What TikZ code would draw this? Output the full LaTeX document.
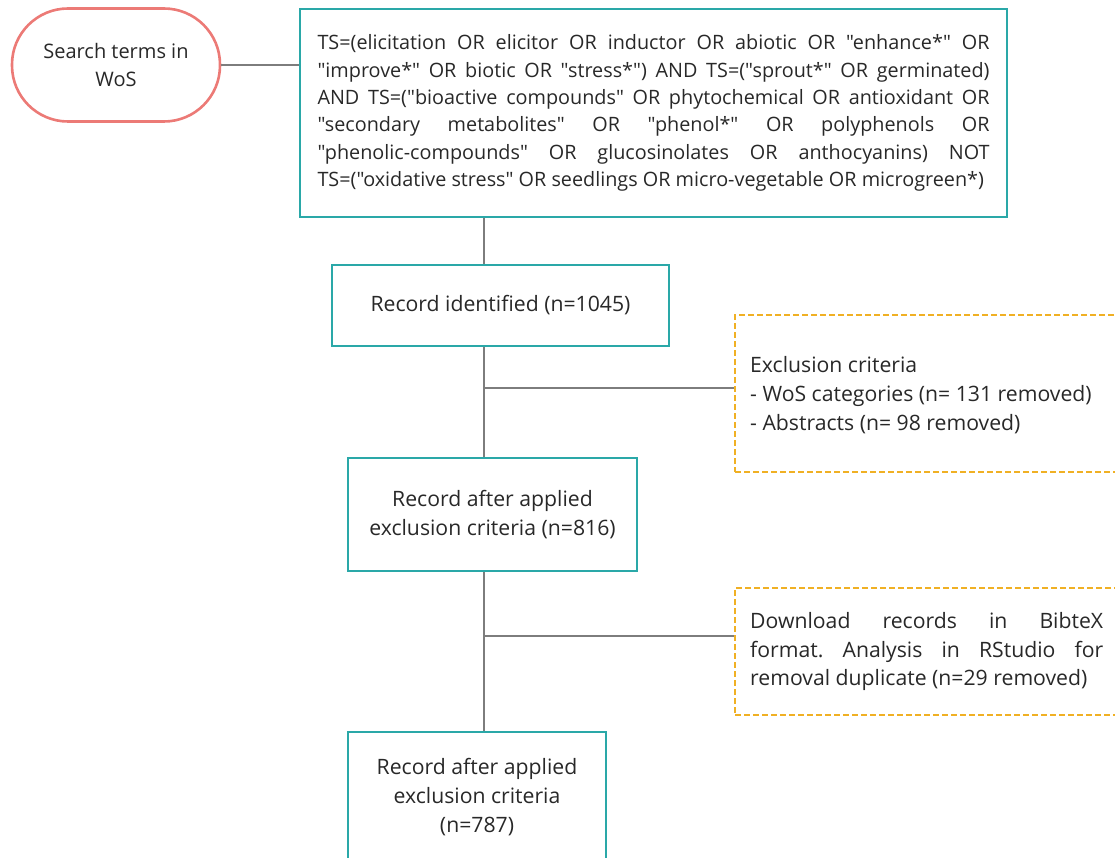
\documentclass[tikz,border=0pt]{standalone}
\usepackage{fontspec}
\setmainfont{Open Sans}[Ligatures=TeXOff]
\usetikzlibrary{calc}
\definecolor{teal1}{RGB}{42,168,168}
\definecolor{salmon1}{RGB}{236,122,118}
\definecolor{orange1}{RGB}{240,176,36}
\definecolor{line1}{RGB}{125,125,125}
\definecolor{txt1}{RGB}{40,40,40}
\tikzset{
  every node/.style={font=\fontsize{21.2}{29}\selectfont, text=txt1},
  tealbox/.style={draw=teal1, line width=2.8pt, align=center, inner sep=0pt},
  dashbox/.style={draw=orange1, line width=2.2pt, dash pattern=on 6pt off 3pt, inner sep=0pt},
  conn/.style={draw=line1, line width=2.6pt},
}
\begin{document}
\frenchspacing
\begin{tikzpicture}[x=1pt,y=-1pt]
\useasboundingbox (0,0) rectangle (1115,858);
\clip (0,0) rectangle (1115,858);
\coordinate (spine) at (484,0);
\coordinate (b1) at (484,388);
\coordinate (b2) at (484,636);
% nodes
\node[draw=salmon1, line width=2.6pt, rounded corners=56pt, minimum width=208pt, minimum height=113pt, align=center, inner sep=0pt, font=\fontsize{20}{28}\selectfont] (search) at (116,65) {Search terms in\\WoS};
\node[tealbox, minimum width=707pt, minimum height=208pt] (query) at (653.5,113) {%
\begin{minipage}{672pt}\fontsize{19.8}{27.4}\selectfont\hyphenpenalty=10000\exhyphenpenalty=10000\parindent=0pt
TS=(elicitation OR elicitor OR inductor OR abiotic OR "enhance*" OR\linebreak
"improve*" OR biotic OR "stress*") AND TS=("sprout*" OR germinated)\linebreak
AND TS=("bioactive compounds" OR phytochemical OR antioxidant OR\linebreak
"secondary metabolites" OR "phenol*" OR polyphenols OR\linebreak
"phenolic-compounds" OR glucosinolates OR anthocyanins) NOT\linebreak
TS=("oxidative stress" OR seedlings OR micro-vegetable OR microgreen*)
\end{minipage}};
\node[tealbox, minimum width=337pt, minimum height=81pt] (rec1) at (500.5,305.5) {Record identified (n=1045)};
\node[dashbox, minimum width=381pt, minimum height=157pt] (excl) at (925.5,393.5) {};
\node[anchor=west, align=left, inner sep=0pt] (excltext) at (750,395) {Exclusion criteria\\- WoS categories (n= 131 removed)\\- Abstracts (n= 98 removed)};
\node[tealbox, minimum width=289pt, minimum height=113pt] (rec2) at (492.5,514.5) {Record after applied\\exclusion criteria (n=816)};
\node[dashbox, minimum width=381pt, minimum height=127pt] (dl) at (925.5,651.5) {};
\node[anchor=west, inner sep=0pt] (dltext) at (750,651.5) {%
\begin{minipage}{353pt}\fontsize{21.2}{28.5}\selectfont\frenchspacing\hyphenpenalty=10000\parindent=0pt
Download records in BibteX\linebreak
format. Analysis in RStudio for\linebreak
removal duplicate (n=29 removed)
\end{minipage}};
\node[tealbox, minimum width=258pt, minimum height=130pt] (rec3) at (477,797) {Record after applied\\exclusion criteria\\(n=787)};
% connectors
\draw[conn] (search.east) -- (search.east -| query.west);
\draw[conn] (query.south -| spine) -- (rec1.north -| spine);
\draw[conn] (rec1.south -| spine) -- (rec2.north -| spine);
\draw[conn] (b1) -- (b1 -| excl.west);
\draw[conn] (rec2.south -| spine) -- (rec3.north -| spine);
\draw[conn] (b2) -- (b2 -| dl.west);
\end{tikzpicture}
\end{document}
